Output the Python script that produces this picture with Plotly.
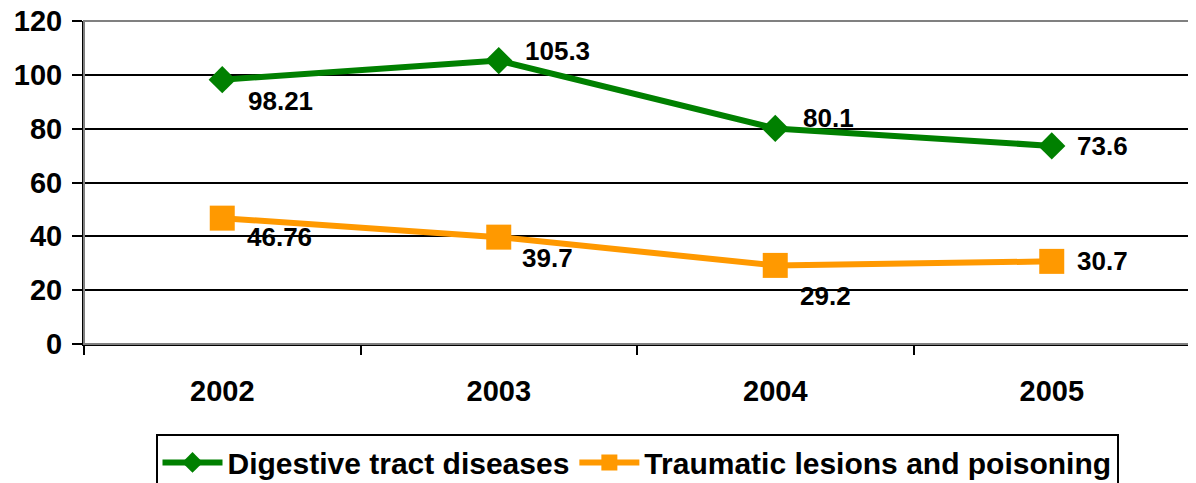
import plotly.graph_objects as go

years = ["2002", "2003", "2004", "2005"]
digestive = [98.21, 105.3, 80.1, 73.6]
traumatic = [46.76, 39.7, 29.2, 30.7]
digestive_labels = ["98.21", "105.3", "80.1", "73.6"]
traumatic_labels = ["46.76", "39.7", "29.2", "30.7"]
y_ticks = [0, 20, 40, 60, 80, 100, 120]

# label offsets in pixels (x, y) relative to the point
dig_off = [(24, -21), (24, 10), (26, 10), (23, 0)]
tra_off = [(23, -19), (21, -21), (23, -31), (23, 0)]

GREEN = "#008000"
ORANGE = "#FF9900"
FONT = "Liberation Sans, Arial, sans-serif"

fig = go.Figure()
fig.add_trace(go.Scatter(
    x=years, y=digestive, name="Digestive tract diseases",
    mode="lines+markers",
    line=dict(color=GREEN, width=6),
    marker=dict(symbol="diamond", size=21, color=GREEN),
))
fig.add_trace(go.Scatter(
    x=years, y=traumatic, name="Traumatic lesions and poisoning",
    mode="lines+markers",
    line=dict(color=ORANGE, width=6),
    marker=dict(symbol="square", size=25, color=ORANGE),
))

annotations = []
for ys, labs, offs in [(digestive, digestive_labels, dig_off),
                       (traumatic, traumatic_labels, tra_off)]:
    for i, (y, lab, (dx, dy)) in enumerate(zip(ys, labs, offs)):
        annotations.append(dict(
            x=i, y=y, xref="x", yref="y", text=lab,
            showarrow=False, xanchor="left", yanchor="middle",
            xshift=dx, yshift=dy,
            font=dict(family=FONT, size=26, color="black", weight="bold"),
        ))

fig.update_layout(
    width=1188, height=475,
    margin=dict(l=76, r=6, t=13, b=139, autoexpand=False),
    paper_bgcolor="white", plot_bgcolor="white",
    font=dict(family=FONT, size=28, color="black", weight="bold"),
    showlegend=True,
    legend=dict(
        orientation="h", x=0.5, xanchor="center", y=-0.28, yanchor="top",
        bordercolor="black", borderwidth=2, bgcolor="white",
        font=dict(family=FONT, size=30, color="black", weight="bold"),
        itemwidth=60, tracegroupgap=0,
    ),
    annotations=annotations,
    shapes=[dict(type="rect", xref="paper", yref="paper", x0=0, x1=1, y0=0, y1=1,
                 line=dict(color="#808080", width=2), layer="above")],
)

fig.update_xaxes(
    type="category", categoryorder="array", categoryarray=years,
    range=[-0.5, len(years) - 0.5], automargin=False,
    tickson="boundaries",
    ticks="outside", ticklen=9, tickwidth=2, tickcolor="black",
    showline=True, linecolor="black", linewidth=2,
    showgrid=False, zeroline=False,
    tickfont=dict(family=FONT, size=29, color="black", weight="bold"),
    ticklabelstandoff=20,
)
fig.update_yaxes(
    range=[0, 120], tickvals=y_ticks, automargin=False,
    ticklabeloverflow="allow",
    ticks="outside", ticklen=10, tickwidth=2, tickcolor="black",
    showline=True, linecolor="black", linewidth=2,
    showgrid=True, gridcolor="black", gridwidth=2, zeroline=False,
    tickfont=dict(family=FONT, size=29, color="black", weight="bold"),
    ticklabelstandoff=4,
)

fig.write_html("out.html")
